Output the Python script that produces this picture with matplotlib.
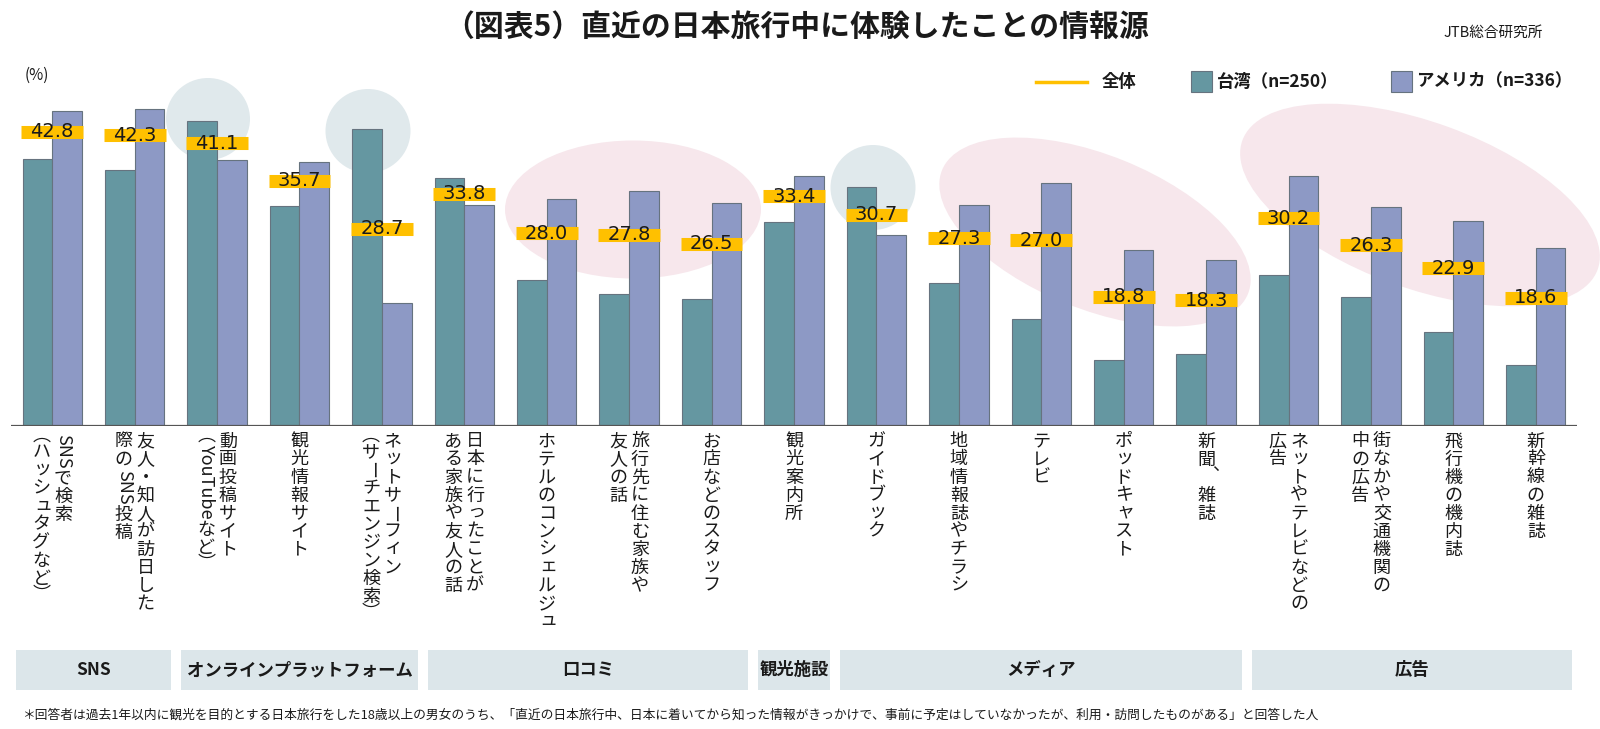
import matplotlib
matplotlib.use("Agg")
import matplotlib.pyplot as plt
import matplotlib.transforms as mtransforms
from matplotlib.patches import Ellipse, Rectangle
from matplotlib.lines import Line2D
from matplotlib.font_manager import FontProperties
import numpy as np

plt.rcParams['font.family'] = ['Noto Sans CJK JP', 'DejaVu Sans']

# ---------------- data ----------------
title = "（図表5）直近の日本旅行中に体験したことの情報源"
source = "JTB総合研究所"
unit_label = "(%)"
categories = [
    "SNSで検索\n（ハッシュタグなど）",
    "友人・知人が訪日した\n際のSNS投稿",
    "動画投稿サイト\n（YouTubeなど）",
    "観光情報サイト",
    "ネットサーフィン\n（サーチエンジン検索）",
    "日本に行ったことが\nある家族や友人の話",
    "ホテルのコンシェルジュ",
    "旅行先に住む家族や\n友人の話",
    "お店などのスタッフ",
    "観光案内所",
    "ガイドブック",
    "地域情報誌やチラシ",
    "テレビ",
    "ポッドキャスト",
    "新聞、雑誌",
    "ネットやテレビなどの\n広告",
    "街なかや交通機関の\n中の広告",
    "飛行機の機内誌",
    "新幹線の雑誌",
]
overall = [42.8, 42.3, 41.1, 35.7, 28.7, 33.8, 28.0, 27.8, 26.5, 33.4,
           30.7, 27.3, 27.0, 18.8, 18.3, 30.2, 26.3, 22.9, 18.6]
taiwan = [38.8, 37.2, 44.4, 32.0, 43.2, 36.0, 21.2, 19.2, 18.4, 29.6,
          34.8, 20.8, 15.6, 9.6, 10.4, 22.0, 18.8, 13.6, 8.8]
usa = [45.8, 46.1, 38.7, 38.4, 17.8, 32.1, 33.0, 34.2, 32.4, 36.3,
       27.7, 32.1, 35.4, 25.6, 24.1, 36.3, 31.9, 29.8, 25.9]
series_names = ["全体", "台湾（n=250）", "アメリカ（n=336）"]
groups = ["SNS", "オンラインプラットフォーム", "口コミ", "観光施設", "メディア", "広告"]
group_sizes = [2, 3, 4, 1, 5, 4]
footnote = ("＊回答者は過去1年以内に観光を目的とする日本旅行をした18歳以上の男女のうち、"
            "「直近の日本旅行中、日本に着いてから知った情報がきっかけで、"
            "事前に予定はしていなかったが、利用・訪問したものがある」と回答した人")

# ---------------- style ----------------
TW_COLOR = "#6597a1"
US_COLOR = "#8d99c5"
EDGE = "#66737f"
YELLOW = "#ffc000"
BOX = "#dce6ea"
BLUE_BG = "#e0e9ec"
PINK_BG = "#f7e7ec"
TXT = "#1a1a1a"

W, H, DPI = 1600, 729, 100
fig = plt.figure(figsize=(W / DPI, H / DPI), dpi=DPI)
fig.patch.set_facecolor("white")
# image-pixel (origin top-left) transform
pixT = mtransforms.Affine2D().scale(1 / W, -1 / H).translate(0, 1) + fig.transFigure

# decorative background shapes
for (cx, cy, ew, eh, ang, col) in [
    (208, 119, 84, 82, 0, BLUE_BG),
    (368, 131, 85, 84, 0, BLUE_BG),
    (873, 187.5, 85, 85, 0, BLUE_BG),
    (633, 209.5, 256, 138, 0, PINK_BG),
    (1095, 232, 330, 154, 22, PINK_BG),
    (1420, 205, 378, 166, 20, PINK_BG),
]:
    e = Ellipse((cx, cy), ew, eh, angle=ang, transform=pixT, facecolor=col,
                edgecolor="none", zorder=-1)
    fig.add_artist(e)

# main axes
base_y = 425.7
ppu = 6.867
ymax = 50
ax = fig.add_axes([11 / W, 1 - base_y / H, (1577 - 11) / W, ymax * ppu / H])
ax.set_xlim(-0.5, len(categories) - 0.5)
ax.set_ylim(0, ymax)
ax.axis("off")

x = np.arange(len(categories))
w = 0.36
ax.bar(x - w / 2, taiwan, w, color=TW_COLOR, edgecolor=EDGE, linewidth=0.8, zorder=2)
ax.bar(x + w / 2, usa, w, color=US_COLOR, edgecolor=EDGE, linewidth=0.8, zorder=2)
lc = ax.hlines(overall, x - 0.375, x + 0.375, colors=YELLOW, linewidth=9.4, zorder=3)
lc.set_capstyle("butt")
for xi, v in zip(x, overall):
    ax.text(xi, v, f"{v:.1f}", ha="center", va="center", fontsize=14,
            family="DejaVu Sans", color=TXT, zorder=4)
ax.axhline(0, color="#555555", linewidth=1.6, zorder=5)

# vertical (tategaki) category labels
lab_fs = 13
lab_fp = FontProperties(family="Noto Sans CJK JP", size=lab_fs)
renderer = fig.canvas.get_renderer()


def text_w_pt(s):
    tw, th, td = renderer.get_text_width_height_descent(s, lab_fp, ismath=False)
    return tw * 72.0 / fig.dpi


SMALL = set("ぁぃぅぇぉっゃゅょゎァィゥェォッャュョヮヵヶ")
VERT_FORMS = {"（": "\ufe35", "）": "\ufe36"}
VERT_PUNCT = {"、": "\ufe11", "。": "\ufe12"}


def tokens(col):
    toks = []
    i = 0
    while i < len(col):
        ch = col[i]
        if ch.isascii() and ch.isalnum():
            j = i
            while j < len(col) and col[j].isascii() and col[j].isalnum():
                j += 1
            toks.append(("run", col[i:j]))
            i = j
        else:
            toks.append(("ch", ch))
            i += 1
    return toks


em = lab_fs
pitch = 1.2 * em
top_gap = 4.8
for xi, lab in zip(x, categories):
    cols = lab.split("\n")
    n = len(cols)
    for j, col in enumerate(cols):
        dx = ((n - 1) / 2 - j) * pitch
        y = top_gap
        for kind, s in tokens(col):
            ox, oy, rot = 0.0, 0.0, 0
            if kind == "run":
                adv = text_w_pt(s) + 0.15 * em
                rot = -90
            elif s in VERT_FORMS:
                adv = 0.6 * em
                oy = 0.12 * em if s == "（" else -0.12 * em
                s = VERT_FORMS[s]
            elif s in VERT_PUNCT:
                adv = em
                ox, oy = 0.22 * em, 0.1 * em
                s = VERT_PUNCT[s]
            elif s == "ー":
                adv = em
                rot = -90
            else:
                adv = em
                if s in SMALL:
                    ox, oy = 0.08 * em, 0.1 * em
            ax.annotate(s, xy=(xi, 0), xycoords=("data", "axes fraction"),
                        xytext=(dx + ox, -(y + adv / 2) + oy), textcoords="offset points",
                        ha="center", va="center", rotation=rot, fontsize=lab_fs,
                        color=TXT, annotation_clip=False)
            y += adv

# category group boxes
blend = mtransforms.blended_transform_factory(ax.transData, fig.transFigure)
start = -0.5
for name, nsz in zip(groups, group_sizes):
    x0, x1 = start + 0.06, start + nsz - 0.06
    rect = Rectangle((x0, 1 - 690 / H), x1 - x0, 40 / H, transform=blend,
                     facecolor=BOX, edgecolor="none", clip_on=False)
    fig.add_artist(rect)
    fig.text((x0 + x1) / 2, 1 - 670 / H, name, transform=blend, ha="center",
             va="center", fontsize=12.5, fontweight="bold", color=TXT)
    start += nsz

# legend (manual)
ly = 81.6
fig.add_artist(Line2D([1036, 1087], [ly, ly], transform=pixT, color=YELLOW, linewidth=2.5))
fig.text(1102 / W, 1 - ly / H, series_names[0], fontsize=12.5, fontweight="bold",
         va="center", color=TXT)
fig.add_artist(Rectangle((1191, ly - 10.5), 21, 21, transform=pixT, facecolor=TW_COLOR,
                         edgecolor=EDGE, linewidth=0.8))
fig.text(1217 / W, 1 - ly / H, series_names[1], fontsize=12.5, fontweight="bold",
         va="center", color=TXT)
fig.add_artist(Rectangle((1391, ly - 10.5), 21, 21, transform=pixT, facecolor=US_COLOR,
                         edgecolor=EDGE, linewidth=0.8))
fig.text(1416 / W, 1 - ly / H, series_names[2], fontsize=12.5, fontweight="bold",
         va="center", color=TXT)

# titles and notes
fig.text(797 / W, 1 - 27 / H, title, ha="center", va="center", fontsize=21.5,
         fontweight="bold", color=TXT)
fig.text(1543 / W, 1 - 33 / H, source, ha="right", va="center", fontsize=10.5, color=TXT)
fig.text(25 / W, 1 - 75.5 / H, unit_label, ha="left", va="center", fontsize=11, color=TXT)
fig.text(22 / W, 1 - 715 / H, footnote, ha="left", va="center", fontsize=9.2, color=TXT)

fig.savefig("out.png", dpi=DPI, facecolor="white")
